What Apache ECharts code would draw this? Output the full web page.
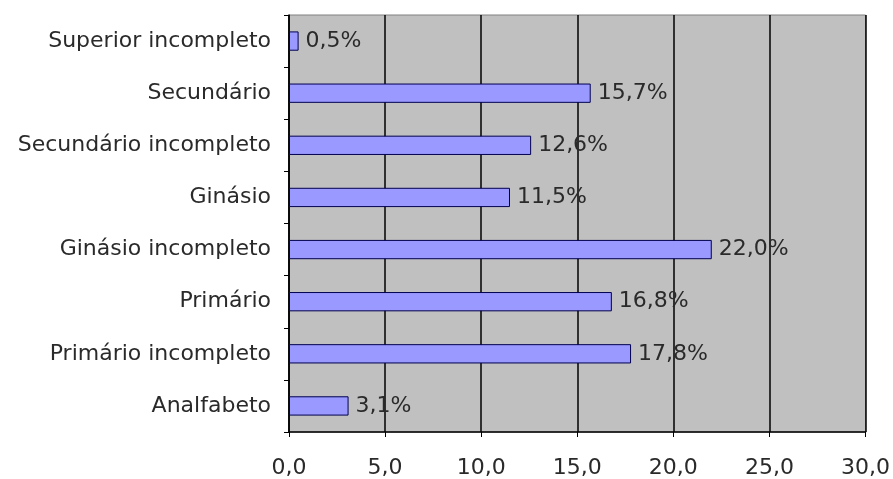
<!DOCTYPE html>
<html>
<head>
<meta charset="utf-8">
<script src="https://cdn.jsdelivr.net/npm/echarts@6/dist/echarts.min.js"></script>
<style>
  html, body { margin: 0; padding: 0; background: #fff; }
  #chart { width: 893px; height: 479px; }
</style>
</head>
<body>
<div id="chart"></div>
<script>
// categories from bottom to top
const categories = [
  'Analfabeto',
  'Primário incompleto',
  'Primário',
  'Ginásio incompleto',
  'Ginásio',
  'Secundário incompleto',
  'Secundário',
  'Superior incompleto'
]
const values = [3.1, 17.8, 16.8, 22.0, 11.5, 12.6, 15.7, 0.5]
const xTicks = [0, 5, 10, 15, 20, 25, 30]

const fmt = v => v.toFixed(1).replace('.', ',')
const font = 'DejaVu Sans'

const chart = echarts.init(document.getElementById('chart'))
chart.setOption({
  animation: false,
  grid: {
    left: 289,
    right: 24,
    top: 15,
    bottom: 47,
    show: true,
    backgroundColor: '#c0c0c0',
    borderColor: '#808080',
    borderWidth: 1
  },
  xAxis: {
    type: 'value',
    min: xTicks[0],
    max: xTicks[xTicks.length - 1],
    interval: 5,
    axisLine: { show: true, lineStyle: { color: '#000', width: 1.5 } },
    axisTick: { show: true, length: 5, lineStyle: { color: '#000' } },
    splitLine: { show: true, lineStyle: { color: '#000', width: 1.5 } },
    axisLabel: {
      color: '#2a2a2a',
      fontFamily: font,
      fontSize: 22,
      margin: 25,
      formatter: v => fmt(v)
    }
  },
  yAxis: {
    type: 'category',
    data: categories,
    axisLine: { show: true, lineStyle: { color: '#000', width: 1.5 } },
    axisTick: { show: true, length: 5, lineStyle: { color: '#000' } },
    axisLabel: {
      color: '#2a2a2a',
      fontFamily: font,
      fontSize: 22,
      margin: 18
    }
  },
  series: [{
    type: 'bar',
    data: values,
    barWidth: '37%',
    itemStyle: {
      color: '#9999ff',
      borderColor: '#000050',
      borderWidth: 1
    },
    label: {
      show: true,
      position: 'right',
      distance: 7,
      color: '#2a2a2a',
      fontFamily: font,
      fontSize: 22,
      formatter: p => fmt(p.value) + '%'
    }
  }]
})
</script>
</body>
</html>
